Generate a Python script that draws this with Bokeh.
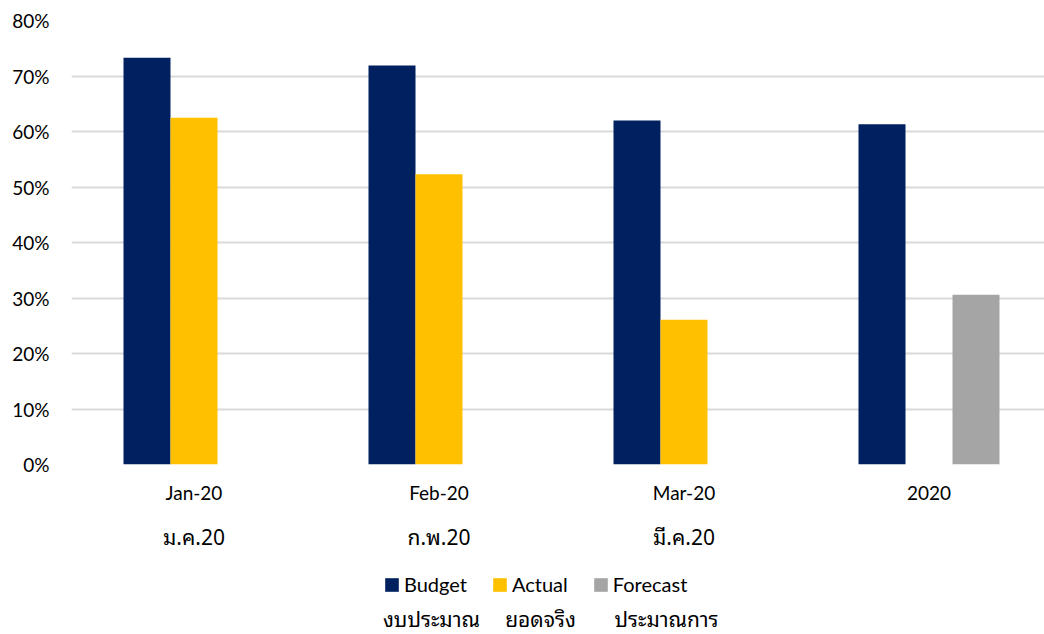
from bokeh.plotting import figure
from bokeh.layouts import column
from bokeh.models import (Range1d, FixedTicker, PrintfTickFormatter, LinearAxis,
                          Legend, LegendItem, Label)
from bokeh.embed import file_html
from bokeh.resources import INLINE

# ---- data ----
categories_en = ["Jan-20", "Feb-20", "Mar-20", "2020"]
categories_th = ["ม.ค.20", "ก.พ.20", "มี.ค.20", ""]
budget = [73.3, 71.9, 62.0, 61.3]
actual = [62.5, 52.3, 26.1]          # Jan-20 .. Mar-20
forecast = [30.6]                    # 2020
series_en = ["Budget", "Actual", "Forecast"]
series_th = ["งบประมาณ", "ยอดจริง", "ประมาณการ"]
y_ticks = [0, 10, 20, 30, 40, 50, 60, 70, 80]

# ---- style ----
C_BUDGET, C_ACTUAL, C_FORECAST = "#002060", "#FFC000", "#A5A5A5"
FONT = "Lato"
THAI_FONT = "Tahoma, Noto Sans Thai Looped, Noto Sans Thai, Noto Sans, Lato, sans-serif"
W = 1044
H_MAIN, H_LEG = 560, 74
LEFT, TOP = 71, 20
BOTTOM = H_MAIN - 464
CAT_PX = 245.0
BAR_W = 47.0 / CAT_PX

frame_w = W - LEFT
x_end = frame_w / CAT_PX

p = figure(width=W, height=H_MAIN, output_backend="svg", toolbar_location=None,
           x_range=Range1d(0, x_end), y_range=Range1d(0, 80),
           min_border_left=LEFT, min_border_right=0, min_border_top=TOP,
           min_border_bottom=BOTTOM, x_axis_location=None)
p.outline_line_color = None
p.background_fill_color = "white"
p.border_fill_color = "white"

centers = [i + 0.5 for i in range(len(categories_en))]
x_budget = [c - BAR_W for c in centers]
x_actual = centers[:len(actual)]
x_forecast = [c + BAR_W for c in centers[len(categories_en) - len(forecast):]]

p.vbar(x=x_budget, top=budget, width=BAR_W, fill_color=C_BUDGET, line_color=None)
p.vbar(x=x_actual, top=actual, width=BAR_W, fill_color=C_ACTUAL, line_color=None)
p.vbar(x=x_forecast, top=forecast, width=BAR_W, fill_color=C_FORECAST, line_color=None)

# y axis
p.yaxis.ticker = FixedTicker(ticks=y_ticks)
p.yaxis.formatter = PrintfTickFormatter(format="%d%%")
p.yaxis.axis_line_color = None
p.yaxis.major_tick_line_color = None
p.yaxis.minor_tick_line_color = None
p.yaxis.major_tick_out = 0
p.yaxis.major_label_standoff = 22
p.yaxis.major_label_text_font = FONT
p.yaxis.major_label_text_font_size = "19px"
p.yaxis.major_label_text_color = "black"

p.xgrid.grid_line_color = None
p.ygrid.ticker = FixedTicker(ticks=y_ticks)
p.ygrid.grid_line_color = "#d9d9d9"
p.ygrid.grid_line_width = 2

# two category axes (English, Thai)
def cat_axis(labels, font, size, standoff):
    ax = LinearAxis(ticker=FixedTicker(ticks=centers),
                    major_label_overrides={c: l for c, l in zip(centers, labels)})
    ax.axis_line_color = None
    ax.major_tick_line_color = None
    ax.minor_tick_line_color = None
    ax.major_tick_out = 0
    ax.major_tick_in = 0
    ax.major_label_standoff = standoff
    ax.major_label_text_font = font
    ax.major_label_text_font_size = size
    ax.major_label_text_color = "black"
    return ax

p.add_layout(cat_axis(categories_en, FONT, "19px", 16), "below")
p.add_layout(cat_axis(categories_th, THAI_FONT, "21px", 12), "below")

# ---- legend strip (its frame is aligned with the chart frame, left = 71) ----
q = figure(width=W, height=H_LEG, output_backend="svg", toolbar_location=None,
           x_range=Range1d(-100, -90), y_range=Range1d(0, 1),
           min_border=0, x_axis_location=None, y_axis_location=None)
q.outline_line_color = None
q.grid.grid_line_color = None
q.background_fill_color = "white"
q.border_fill_color = "white"
# legend-only renderers (outside of the strip's visible range)
lb = q.vbar(x=x_budget, top=budget, width=BAR_W, fill_color=C_BUDGET, line_color=None)
la = q.vbar(x=x_actual, top=actual, width=BAR_W, fill_color=C_ACTUAL, line_color=None)
lf = q.vbar(x=x_forecast, top=forecast, width=BAR_W, fill_color=C_FORECAST, line_color=None)

legend = Legend(items=[LegendItem(label=series_en[0], renderers=[lb]),
                       LegendItem(label=series_en[1], renderers=[la]),
                       LegendItem(label=series_en[2], renderers=[lf])],
                orientation="horizontal", location=(312, 38))
legend.glyph_width = 17
legend.glyph_height = 17
legend.label_standoff = 4
legend.spacing = 24
legend.padding = 0
legend.margin = 0
legend.border_line_color = None
legend.background_fill_alpha = 0
legend.label_text_font = FONT
legend.label_text_font_size = "20px"
legend.label_text_color = "black"
legend.label_height = 20
q.add_layout(legend, "center")

for cx, txt in zip([360, 469, 595], series_th):
    q.add_layout(Label(x=cx, y=17, x_units="screen", y_units="screen", text=txt,
                       text_align="center", text_baseline="middle",
                       text_font=THAI_FONT, text_font_size="21px", text_color="black"))

layout = column(p, q, spacing=0)
open("out.html", "w").write(file_html(layout, INLINE))
